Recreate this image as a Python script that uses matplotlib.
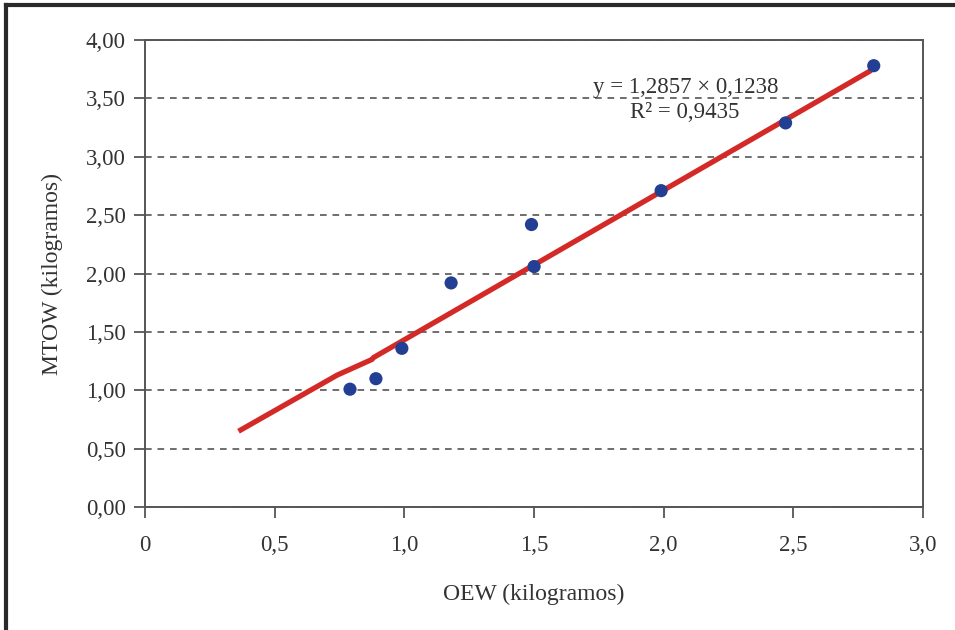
import matplotlib.pyplot as plt
from matplotlib.lines import Line2D

# OEW vs MTOW (kg)
oew = [0.79, 0.89, 0.99, 1.18, 1.49, 1.50, 1.99, 2.47, 2.81]
mtow = [1.01, 1.10, 1.36, 1.92, 2.42, 2.06, 2.71, 3.29, 3.78]

# trend line as drawn (polyline with a small kink)
trend_x = [0.36, 0.74, 0.875, 0.88, 2.80]
trend_y = [0.65, 1.13, 1.265, 1.28, 3.74]

x_ticks = [0, 0.5, 1.0, 1.5, 2.0, 2.5, 3.0]
x_labels = ['0', '0,5', '1,0', '1,5', '2,0', '2,5', '3,0']
y_ticks = [0, 0.5, 1.0, 1.5, 2.0, 2.5, 3.0, 3.5, 4.0]
y_labels = ['0,00', '0,50', '1,00', '1,50', '2,00', '2,50', '3,00', '3,50', '4,00']

plt.rcParams['font.family'] = ['Liberation Serif', 'DejaVu Serif']

fig = plt.figure(figsize=(9.55, 6.3), dpi=100)
ax = fig.add_axes([0.152, 0.195, 0.8145, 0.7415])

ax.plot(trend_x, trend_y, color='#d42a27', lw=3.8, solid_capstyle='butt', zorder=2)
ax.scatter(oew, mtow, s=90, color='#233f94', zorder=3, edgecolors='none')

ax.set_xlim(0, 3.0)
ax.set_ylim(0, 4.0)
ax.set_xticks(x_ticks)
ax.set_xticklabels(x_labels)
ax.set_yticks(y_ticks)
ax.set_yticklabels(y_labels)
ax.tick_params(labelsize=16.5, colors='#555555', labelcolor='#333333', length=8, width=1.3, pad=6)
ax.tick_params(axis='x', pad=12)

ax.yaxis.grid(True, linestyle=(0, (4, 3.5)), color='#555555', lw=1.2)
ax.set_axisbelow(True)
for s in ax.spines.values():
    s.set_color('#555555')
    s.set_linewidth(1.4)

ax.set_xlabel('OEW (kilogramos)', fontsize=17, color='#333333', labelpad=20)
ax.set_ylabel('MTOW (kilogramos)', fontsize=17, color='#333333', labelpad=16)

ax.text(2.085, 3.59, 'y = 1,2857 × 0,1238', fontsize=16.5, color='#333333',
        ha='center', va='center')
ax.text(2.08, 3.375, 'R² = 0,9435', fontsize=16.5, color='#333333',
        ha='center', va='center')

# outer frame (left and top edges)
fig.add_artist(Line2D([0.0065, 0.0065], [0, 0.992], transform=fig.transFigure,
                      color='#2a2a2a', lw=3))
fig.add_artist(Line2D([0.0065, 1.0], [0.992, 0.992], transform=fig.transFigure,
                      color='#2a2a2a', lw=3))

fig.savefig('out.png', dpi=100)
